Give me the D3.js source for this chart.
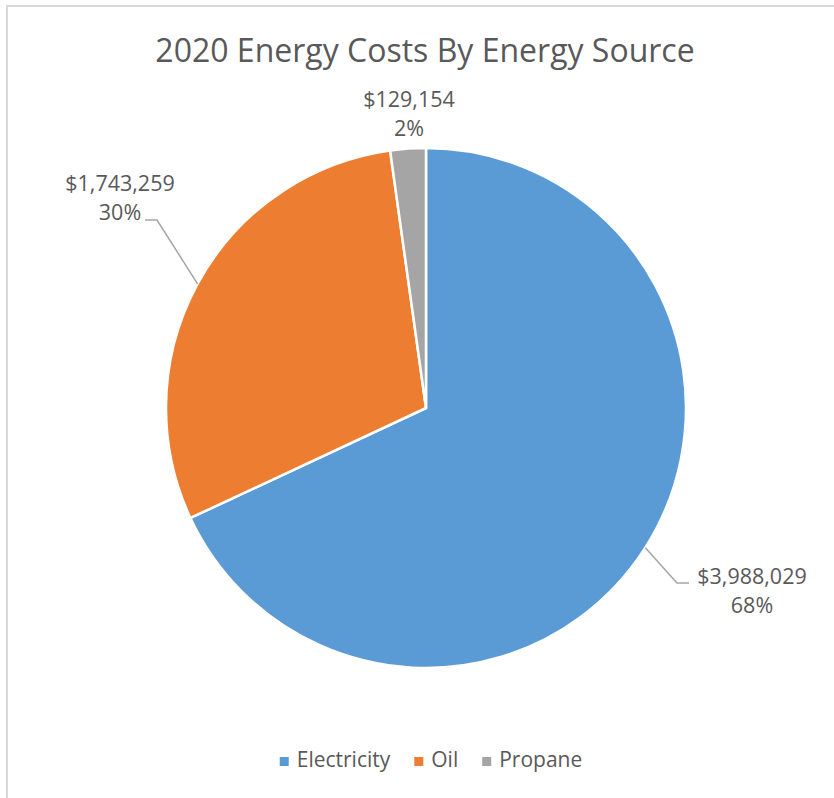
<!DOCTYPE html>
<html>
<head>
<meta charset="utf-8">
<script src="https://cdn.jsdelivr.net/npm/d3@7"></script>
<style>
  body { margin: 0; background: #fff; }
  svg text { font-family: "Open Sans", sans-serif; fill: #595959; }
</style>
</head>
<body>
<svg id="chart" width="834" height="798"></svg>
<script>
const categories = ["Electricity", "Oil", "Propane"]
const costs = [3988029, 1743259, 129154]
const colors = ["#5B9BD5", "#ED7D31", "#A5A5A5"]

// label placement (Excel "best fit" style), kept apart from the data
const labelLayout = [
  {x: 752, y: 584, elbow: [677, 583], end: [689, 583]},
  {x: 120, y: 191, elbow: [157, 220], end: [145, 220]},
  {x: 409, y: 107}
]

const cx = 426, cy = 408, radius = 260

const svg = d3.select("#chart")

// chart area border (right/bottom edges fall outside the picture)
svg.append("rect")
  .attr("x", 7).attr("y", 6)
  .attr("width", 900).attr("height", 900)
  .attr("fill", "none")
  .attr("stroke", "#D9D9D9")
  .attr("stroke-width", 2)

svg.append("text")
  .attr("x", 425).attr("y", 62)
  .attr("text-anchor", "middle")
  .style("font-size", "32px")
  .text("2020 Energy Costs By Energy Source")

let data = categories.map((c, i) => ({name: c, value: costs[i], color: colors[i]}))
let total = d3.sum(costs)

let pie = d3.pie().sort(null).value(d => d.value)
let arc = d3.arc().innerRadius(0).outerRadius(radius)
let edgeArc = d3.arc().innerRadius(radius).outerRadius(radius)
let slices = pie(data)

let g = svg.append("g").attr("transform", `translate(${cx},${cy})`)

g.selectAll("path.slice")
  .data(slices).enter()
  .append("path")
  .attr("class", "slice")
  .attr("d", arc)
  .attr("fill", d => d.data.color)
  .attr("stroke", "#fff")
  .attr("stroke-width", 2.5)
  .attr("stroke-linejoin", "round")

// leader lines
slices.forEach((s, i) => {
  let lay = labelLayout[i]
  if (!lay.elbow) return
  let p = edgeArc.centroid(s)
  let pts = [[p[0] + cx, p[1] + cy], lay.elbow, lay.end]
  svg.append("path")
    .attr("d", d3.line()(pts))
    .attr("fill", "none")
    .attr("stroke", "#A6A6A6")
    .attr("stroke-width", 1.5)
})

// data labels
slices.forEach((s, i) => {
  let lay = labelLayout[i]
  let t = svg.append("text")
    .attr("text-anchor", "middle")
    .style("font-size", "21.5px")
  t.append("tspan").attr("x", lay.x).attr("y", lay.y)
    .text(d3.format("$,")(s.data.value))
  t.append("tspan").attr("x", lay.x).attr("y", lay.y + 29)
    .text(Math.round(s.data.value / total * 100) + "%")
})

// legend
let legend = svg.append("g")
let lx = 0
data.forEach((d, i) => {
  let item = legend.append("g").attr("transform", `translate(${lx},0)`)
  item.append("rect")
    .attr("x", 0).attr("y", -10)
    .attr("width", 9).attr("height", 9)
    .attr("fill", d.color)
  let txt = item.append("text")
    .attr("x", 17).attr("y", 0)
    .style("font-size", "21px")
    .text(d.name)
  lx += 17 + txt.node().getComputedTextLength() + 24
})
let legendWidth = lx - 24
legend.attr("transform", `translate(${431 - legendWidth / 2},767)`)
</script>
</body>
</html>
